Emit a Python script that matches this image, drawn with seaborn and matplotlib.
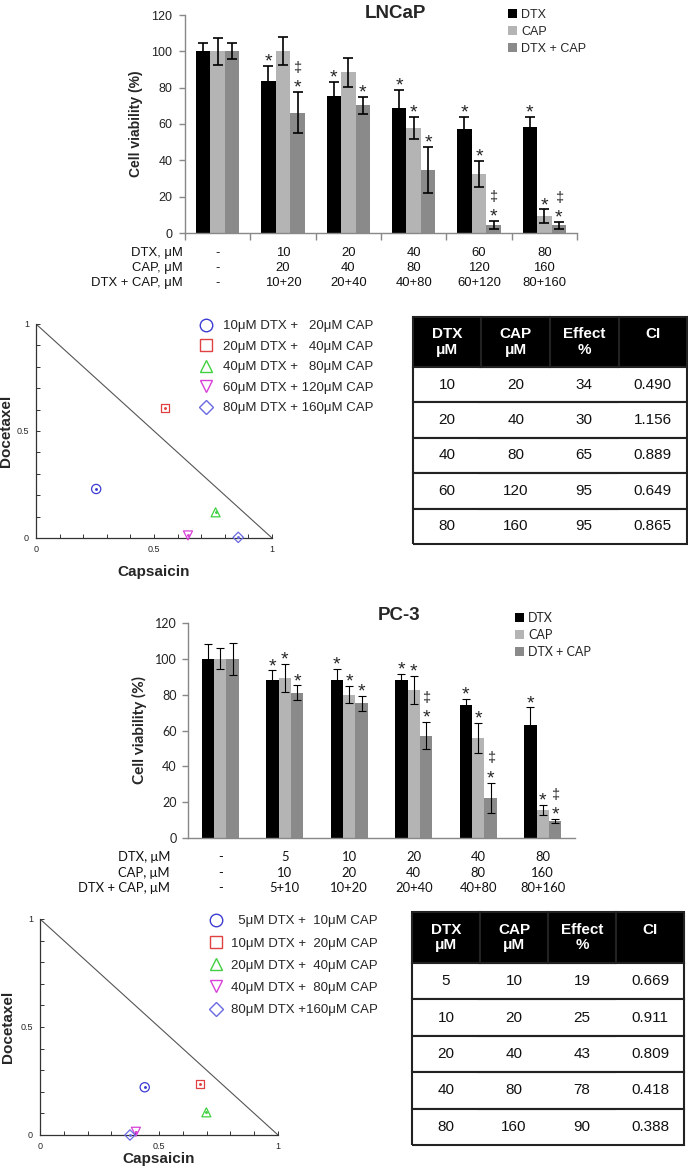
import numpy as np
import pandas as pd
import matplotlib
matplotlib.use('Agg')
import matplotlib.pyplot as plt
import seaborn as sns
from matplotlib.patches import Patch
from matplotlib.lines import Line2D
from matplotlib.transforms import blended_transform_factory

# ---- data ----
treatments = ['DTX', 'CAP', 'DTX + CAP']
bar_colors = ['#000000', '#b4b4b4', '#8a8a8a']
row_names = ['DTX, μM', 'CAP, μM', 'DTX + CAP, μM']

# LNCaP viability (%)
lncap_dtx_dose = ['-', '10', '20', '40', '60', '80']
lncap_cap_dose = ['-', '20', '40', '80', '120', '160']
lncap_combo_dose = ['-', '10+20', '20+40', '40+80', '60+120', '80+160']
lncap_dtx = [100, 83.7, 75.3, 68.7, 57.1, 58.4]
lncap_dtx_err = [4.5, 8.4, 8.0, 10.2, 7.0, 5.7]
lncap_cap = [100, 100.2, 88.6, 57.9, 32.6, 9.2]
lncap_cap_err = [7.5, 7.7, 8.0, 6.2, 7.3, 3.8]
lncap_combo = [100, 66.3, 70.3, 34.6, 4.6, 4.2]
lncap_combo_err = [4.4, 11.2, 4.6, 12.6, 2.2, 1.8]
lncap_dtx_sig = ['', '*', '*', '*', '*', '*']
lncap_cap_sig = ['', '', '', '*', '*', '*']
lncap_combo_sig = ['', '‡*', '*', '*', '‡*', '‡*']

# PC-3 viability (%)
pc3_dtx_dose = ['-', '5', '10', '20', '40', '80']
pc3_cap_dose = ['-', '10', '20', '40', '80', '160']
pc3_combo_dose = ['-', '5+10', '10+20', '20+40', '40+80', '80+160']
pc3_dtx = [100, 88.0, 88.2, 88.4, 74.4, 63.3]
pc3_dtx_err = [8.3, 5.6, 6.3, 3.3, 3.2, 9.6]
pc3_cap = [100, 89.3, 80.0, 82.8, 55.8, 15.6]
pc3_cap_err = [5.9, 8.0, 4.8, 7.8, 8.4, 2.8]
pc3_combo = [100, 81.1, 75.2, 57.1, 22.5, 9.5]
pc3_combo_err = [9.0, 4.1, 4.1, 7.6, 8.4, 1.1]
pc3_dtx_sig = ['', '*', '*', '*', '*', '*']
pc3_cap_sig = ['', '*', '*', '*', '*', '*']
pc3_combo_sig = ['', '*', '*', '‡*', '‡*', '‡*']

# isobolograms (normalised doses)
iso_colors = ['#3c3cd2', '#e04040', '#40d040', '#d840d8', '#6a6ae0']
iso_markers = ['o', 's', '^', 'v', 'D']
lncap_iso_cap = [0.255, 0.545, 0.761, 0.644, 0.857]
lncap_iso_dtx = [0.229, 0.607, 0.120, 0.012, 0.003]
lncap_iso_labels = ['10μM DTX +   20μM CAP', '20μM DTX +   40μM CAP', '40μM DTX +   80μM CAP',
                    '60μM DTX + 120μM CAP', '80μM DTX + 160μM CAP']
pc3_iso_cap = [0.440, 0.673, 0.699, 0.403, 0.378]
pc3_iso_dtx = [0.221, 0.236, 0.105, 0.015, 0.000]
pc3_iso_labels = ['  5μM DTX +  10μM CAP', '10μM DTX +  20μM CAP', '20μM DTX +  40μM CAP',
                  '40μM DTX +  80μM CAP', '80μM DTX +160μM CAP']

# combination index tables
table_header = ['DTX\nμM', 'CAP\nμM', 'Effect\n%', 'CI\n ']
lncap_ci_dtx = ['10', '20', '40', '60', '80']
lncap_ci_cap = ['20', '40', '80', '120', '160']
lncap_ci_effect = ['34', '30', '65', '95', '95']
lncap_ci = ['0.490', '1.156', '0.889', '0.649', '0.865']
pc3_ci_dtx = ['5', '10', '20', '40', '80']
pc3_ci_cap = ['10', '20', '40', '80', '160']
pc3_ci_effect = ['19', '25', '43', '78', '90']
pc3_ci = ['0.669', '0.911', '0.809', '0.418', '0.388']

# ---- figure ----
sns.set_theme(style='ticks')
plt.rcParams['font.family'] = ['Liberation Sans', 'DejaVu Sans']
W, H = 688, 1170
fig = plt.figure(figsize=(W / 100, H / 100), dpi=100)
ARIAL = ['Liberation Sans', 'DejaVu Sans']


def frect(x0, y0, x1, y1):
    # pixel box (y down) -> figure fraction
    return [x0 / W, 1 - y1 / H, (x1 - x0) / W, (y1 - y0) / H]


def bar_panel(box, title, title_xy, vals, errs, sigs, rows, row_ys, row_x, width,
              font, ticks_between, legend_xy, capsize, elw, ylab_x, ytick_pad, label_fs):
    ax = fig.add_axes(frect(*box))
    df = pd.DataFrame({'group': np.tile(rows[0], 3),
                       'treatment': np.repeat(treatments, len(rows[0])),
                       'viability': np.concatenate(vals)})
    sns.barplot(data=df, x='group', y='viability', hue='treatment', hue_order=treatments,
                palette=bar_colors, width=width, gap=0, saturation=1, errorbar=None,
                legend=False, linewidth=0, ax=ax)
    bar_conts = list(ax.containers)
    for i, cont in enumerate(bar_conts):
        for j, bar in enumerate(cont):
            x = bar.get_x() + bar.get_width() / 2
            top = bar.get_height()
            ax.errorbar(x, top, yerr=errs[i][j], color='black', capsize=capsize,
                        elinewidth=elw, capthick=elw, lw=0)
            e = top + errs[i][j]
            if '*' in sigs[i][j]:
                ax.annotate('*', (x, e), xytext=(0, -0.5), textcoords='offset points',
                            ha='center', va='baseline', fontsize=14, family=ARIAL)
            if '‡' in sigs[i][j]:
                ax.annotate('‡', (x, e), xytext=(0, 14.5), textcoords='offset points',
                            ha='center', va='baseline', fontsize=10.5, family=ARIAL)
    ax.set_xlim(-0.5, 5.5)
    ax.set_ylim(0, 120)
    ax.set_yticks(range(0, 121, 20))
    if ticks_between:
        ax.set_xticks(np.arange(-0.5, 6.0, 1.0))
        ax.set_xticklabels([])
        ax.tick_params(axis='x', length=5, color='#888888', width=1)
    else:
        ax.set_xticks([])
    ax.tick_params(axis='y', length=4, color='#888888', width=1, pad=ytick_pad,
                   labelsize=9, labelcolor='#222222')
    for lab in ax.get_yticklabels():
        lab.set_family(font)
    sns.despine(ax=ax)
    for s in ['left', 'bottom']:
        ax.spines[s].set_color('#888888')
        ax.spines[s].set_linewidth(1)
    ax.set_xlabel('')
    ax.set_ylabel('Cell viability (%)', fontsize=label_fs, fontweight='bold', family=font)
    ax.yaxis.set_label_coords(ylab_x, 0.5)
    fig.text(title_xy[0] / W, 1 - title_xy[1] / H, title, ha='center', va='center',
             fontsize=13.5, fontweight='bold')
    handles = [Patch(facecolor=c, edgecolor='none') for c in bar_colors]
    ax.legend(handles, treatments, loc='upper left',
              bbox_to_anchor=(legend_xy[0] / W, 1 - legend_xy[1] / H),
              bbox_transform=fig.transFigure, frameon=False,
              handlelength=0.75, handleheight=0.75, handletextpad=0.3,
              labelspacing=0.4, borderpad=0, borderaxespad=0,
              prop={'family': font, 'size': 9})
    trans = blended_transform_factory(ax.transData, fig.transFigure)
    for r, (name, row) in enumerate(zip(row_names, rows)):
        y = 1 - row_ys[r] / H
        fig.text(row_x / W, y, name, ha='right', va='center', fontsize=9.4,
                 family=font, color='#111111')
        for j, v in enumerate(row):
            ax.text(j, y, v, transform=trans, ha='center', va='center', fontsize=9.4,
                    family=font, color='#111111')
    return ax


def iso_panel(box, xs, ys, labels, legend_xy, textpad, spacing, ylab_x, xlab_y):
    ax = fig.add_axes(frect(*box))
    ax.plot([0, 1], [1, 0], color='#555555', lw=0.8)
    sizes = [44, 34, 42, 42, 28]
    for x, y, m, c, s in zip(xs, ys, iso_markers, iso_colors, sizes):
        ax.scatter(x, y, marker=m, s=s, facecolors='none', edgecolors=c, linewidths=0.9,
                   clip_on=False, zorder=3)
        ax.scatter(x, y, marker='o', s=1.2, color=c, clip_on=False, zorder=4)
    ax.set_xlim(0, 1)
    ax.set_ylim(0, 1)
    ax.set_xticks([0, 0.5, 1])
    ax.set_xticklabels(['0', '0.5', '1'])
    ax.set_yticks([0, 0.5, 1])
    ax.set_yticklabels(['0', '0.5', '1'])
    ax.set_xticks(np.arange(0, 1.01, 0.1), minor=True)
    ax.set_yticks(np.arange(0, 1.01, 0.1), minor=True)
    ax.tick_params(which='both', direction='in', length=3, width=0.7, color='#333333',
                   labelsize=6.5, pad=5)
    sns.despine(ax=ax)
    for s in ['left', 'bottom']:
        ax.spines[s].set_color('#333333')
        ax.spines[s].set_linewidth(0.9)
    ax.set_xlabel('Capsaicin', fontsize=11, fontweight='bold')
    ax.set_ylabel('Docetaxel', fontsize=11, fontweight='bold')
    ax.xaxis.set_label_coords(0.5, xlab_y)
    ax.yaxis.set_label_coords(ylab_x, 0.5)
    ax.xaxis.label.set_va('top')
    handles = [Line2D([], [], ls='none', marker=m, ms=s, mfc='none', mec=c, mew=1.0)
               for m, c, s in zip(iso_markers, iso_colors, [9, 8, 9, 9, 7.5])]
    ax.legend(handles, labels, loc='upper left',
              bbox_to_anchor=(legend_xy[0] / W, 1 - legend_xy[1] / H),
              bbox_transform=fig.transFigure, frameon=False, fontsize=9.5,
              handlelength=1.0, handletextpad=textpad, labelspacing=spacing,
              borderpad=0, borderaxespad=0)
    return ax


def table_panel(box, cols, header_ratio):
    ax = fig.add_axes(frect(*box))
    ax.axis('off')
    cell_text = [list(r) for r in zip(*cols)]
    tb = ax.table(cellText=cell_text, colLabels=table_header, cellLoc='center',
                  bbox=[0, 0, 1, 1])
    tb.auto_set_font_size(False)
    for (r, c), cell in tb.get_celld().items():
        cell.set_edgecolor('#222222')
        cell.set_linewidth(1.5)
        txt = cell.get_text()
        txt.set_fontsize(11)
        if r == 0:
            cell.set_facecolor('black')
            cell.set_height(header_ratio)
            txt.set_color('white')
            txt.set_fontweight('bold')
            txt.set_linespacing(1.1)
        else:
            cell.set_height(1.0)
            cell.set_facecolor('white')
            txt.set_color('#111111')
            cell.visible_edges = 'BTL' if c == 0 else ('BTR' if c == 3 else 'BT')
    return ax


# LNCaP
bar_panel((185, 15, 577, 233), 'LNCaP', (395, 13),
          [lncap_dtx, lncap_cap, lncap_combo],
          [lncap_dtx_err, lncap_cap_err, lncap_combo_err],
          [lncap_dtx_sig, lncap_cap_sig, lncap_combo_sig],
          [lncap_dtx_dose, lncap_cap_dose, lncap_combo_dose],
          [253, 268, 283], 183, 0.666, ARIAL, True,
          (508, 9), 3.5, 1.2, -0.107, 5, 10)
iso_panel((36, 324, 272, 538), lncap_iso_cap, lncap_iso_dtx, lncap_iso_labels,
          (199, 320), 0.85, 0.63, -0.097, -0.125)
table_panel((413, 317, 687, 544), [lncap_ci_dtx, lncap_ci_cap, lncap_ci_effect, lncap_ci], 1.41)

# PC-3
bar_panel((188, 623, 575, 838), 'PC-3', (399, 615),
          [pc3_dtx, pc3_cap, pc3_combo],
          [pc3_dtx_err, pc3_cap_err, pc3_combo_err],
          [pc3_dtx_sig, pc3_cap_sig, pc3_combo_sig],
          [pc3_dtx_dose, pc3_cap_dose, pc3_combo_dose],
          [857, 873, 888], 170, 0.58, ['Lato', 'DejaVu Sans'], False,
          (515, 612), 3, 0.8, -0.106, 4, 11)
iso_panel((40, 919, 278, 1135), pc3_iso_cap, pc3_iso_dtx, pc3_iso_labels,
          (209, 915), 0.65, 0.76, -0.105, -0.079)
table_panel((412, 912, 684, 1145), [pc3_ci_dtx, pc3_ci_cap, pc3_ci_effect, pc3_ci], 1.40)

fig.savefig('out.png', dpi=100)
